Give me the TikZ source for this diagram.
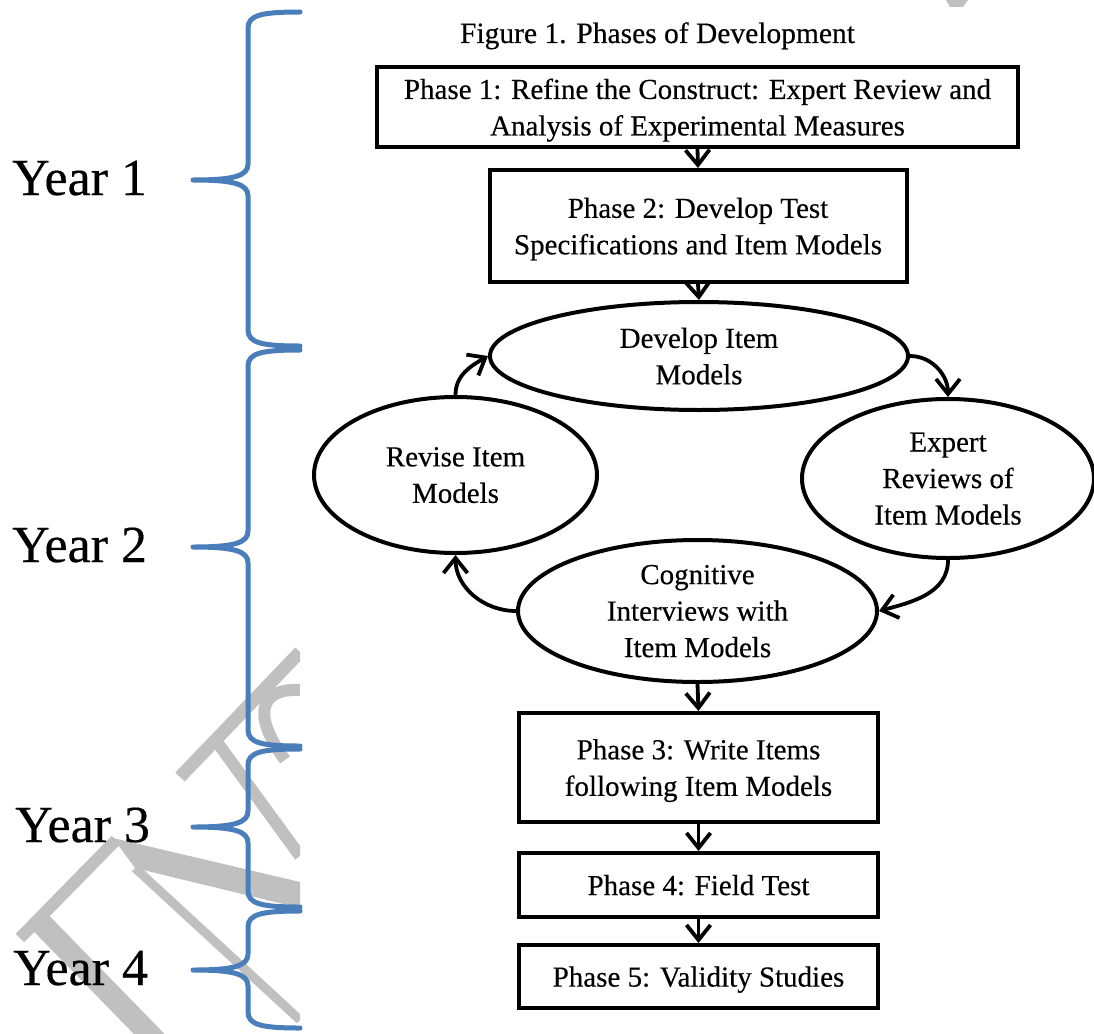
\documentclass[tikz,border=0pt]{standalone}
\usepackage{fontspec}
\setmainfont{Liberation Serif}[FakeBold=0.35]
\usetikzlibrary{arrows.meta,shapes.geometric}
\definecolor{bracec}{RGB}{74,126,187}
\definecolor{wmgray}{RGB}{192,192,192}
\newcommand\yrbrace[3]{%
  \draw[brc] (300,#1) .. controls (262,#1) and (248,{#1+3}) .. (248,{#1+16})
    -- (248,{#2-16}) .. controls (248,{#2-4}) and (234,#2) .. (193,#2)
    .. controls (234,#2) and (248,{#2+4}) .. (248,{#2+16})
    -- (248,{#3-16}) .. controls (248,{#3-3}) and (262,#3) .. (300,#3);}
\begin{document}
\begin{tikzpicture}[x=1pt,y=-1pt,
  box/.style={draw, line width=4pt, rectangle, inner sep=0pt, align=center, text depth=0pt,
    font=\fontsize{29}{36.5}\selectfont},
  oval/.style={draw, line width=4pt, ellipse, inner sep=0pt, align=center, text depth=0pt,
    font=\fontsize{29}{36.5}\selectfont},
  arr/.style={line width=3.8pt, -{Straight Barb[length=15pt,width=24pt]}},
  brc/.style={draw=bracec, line width=5pt, line join=round, line cap=round},
  yearlbl/.style={font=\fontsize{52}{60}\selectfont, anchor=base west, inner sep=0pt},
  wm/.style={draw=wmgray}
]
\useasboundingbox (0,0) rectangle (1094,1033);
\fill[white] (0,0) rectangle (1094,1033);

% watermark fragments
\begin{scope}
  \clip (0,0) rectangle (300,1033);
  \draw[wm, line width=12pt] (20,938) -- (116,840);
  \fill[wmgray] (113,838) -- (300,882) -- (300,908) -- (135,868) -- cycle;
  \draw[wm, line width=22pt] (40,922) -- (160,1045);
  \draw[wm, line width=9pt] (135,868) -- (300,1020);
  \draw[wm, line width=13pt] (180,777) -- (300,652);
  \draw[wm, line width=12pt] (300,690) .. controls (262,688) and (250,712) .. (285,760);
  \draw[wm, line width=12pt] (214,738) -- (300,856);
\end{scope}
\fill[wmgray] (946,0) -- (968,0) -- (963,7) -- (950,7) -- cycle;

% year labels and braces
\node[yearlbl] (y1) at (12,195) {Year 1};
\node[yearlbl] (y2) at (12,562) {Year 2};
\node[yearlbl] (y3) at (15,842) {Year 3};
\node[yearlbl] (y4) at (13,985) {Year 4};
\yrbrace{12}{180}{346}
\yrbrace{350}{547}{746}
\yrbrace{749}{827}{907}
\yrbrace{911}{970}{1028}

% title
\node[anchor=base, inner sep=0pt, font=\fontsize{29.5}{36}\selectfont] (title) at (657.5,43) {Figure 1. Phases of Development};

% boxes
\node[box, minimum width=641pt, minimum height=80pt] (p1) at (697.5,107) {Phase 1: Refine the Construct: Expert Review and\\Analysis of Experimental Measures};
\node[box, minimum width=417pt, minimum height=112pt] (p2) at (698,226) {Phase 2: Develop Test\\Specifications and Item Models};
\node[box, minimum width=359pt, minimum height=109pt] (p3) at (698.5,767.5) {Phase 3: Write Items\\following Item Models};
\node[box, minimum width=359pt, minimum height=64pt] (p4) at (698.5,885) {Phase 4: Field Test};
\node[box, minimum width=359pt, minimum height=63pt] (p5) at (698.5,976.5) {Phase 5: Validity Studies};

% ellipses
\node[oval, minimum width=418pt, minimum height=108pt] (dev) at (699,356) {Develop Item\\Models};
\node[oval, minimum width=283pt, minimum height=156pt] (rev) at (455.5,475) {Revise Item\\Models};
\node[oval, minimum width=292pt, minimum height=159pt] (exp) at (948,478.5) {Expert\\Reviews of\\Item Models};
\node[oval, minimum width=359pt, minimum height=142pt] (cog) at (697.5,611) {Cognitive\\Interviews with\\Item Models};

% connectors (out/in angles are page angles)
\draw[arr] (p1.south) -- (p2.north);
\draw[arr] (p2.south) -- (dev.north);
\draw[arr] (dev.east) to[out=0,in=90] (exp.north);
\draw[arr] (exp.south) to[out=-90,in=15] (cog.east);
\draw[arr] (cog.west) to[out=180,in=-90] (rev.south);
\draw[arr] (rev.north) to[out=90,in=210] (dev.west);
\draw[arr] (cog.south) -- (p3.north);
\draw[arr] (p3.south) -- (p4.north);
\draw[arr] (p4.south) -- (p5.north);
\end{tikzpicture}
\end{document}
